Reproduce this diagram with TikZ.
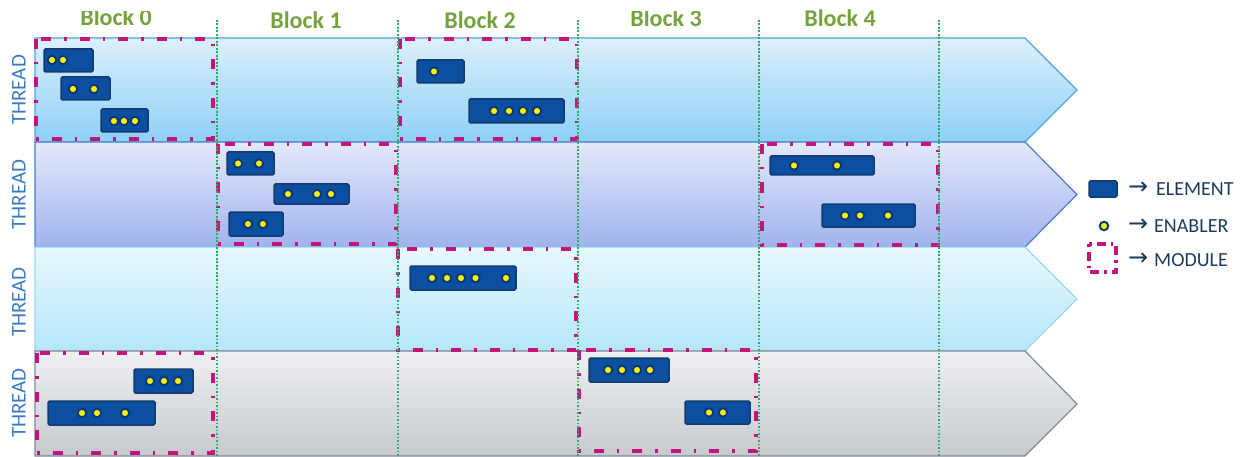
\documentclass[tikz,border=0pt]{standalone}
\usepackage{fontspec}
\setmainfont{Carlito}
\newfontfamily\arrowfont{DejaVu Sans}
\definecolor{blockgreen}{HTML}{76A23E}
\definecolor{threadblue}{HTML}{3A7BC2}
\definecolor{elfill}{HTML}{0C4FA0}
\definecolor{eldraw}{HTML}{143A6C}
\definecolor{halo}{HTML}{08397A}
\definecolor{dotyellow}{HTML}{FFF200}
\definecolor{modcol}{HTML}{C4147C}
\definecolor{gridgreen}{HTML}{23B062}
\definecolor{legtext}{HTML}{1E3A5C}
\definecolor{rAtop}{HTML}{DDF0FC}\definecolor{rAbot}{HTML}{8ED0F8}\definecolor{rAdraw}{HTML}{4FA3DC}
\definecolor{rBtop}{HTML}{E4E9FA}\definecolor{rBbot}{HTML}{A0B3EE}\definecolor{rBdraw}{HTML}{4A7CC6}
\definecolor{rCtop}{HTML}{E8F8FE}\definecolor{rCbot}{HTML}{B6E7FA}\definecolor{rCdraw}{HTML}{9ED6F2}
\definecolor{rDtop}{HTML}{EFF0F2}\definecolor{rDbot}{HTML}{C6CACF}\definecolor{rDdraw}{HTML}{7F8A93}
\tikzset{
  element/.style={rectangle, rounded corners=1.5pt, fill=elfill, draw=eldraw, line width=1.5pt, inner sep=0pt},
  enabler/.style={circle, fill=dotyellow, draw=halo, line width=2pt, inner sep=0pt, minimum size=8.5pt},
  module/.style={draw=modcol, line width=3.4pt, dash pattern=on 10pt off 13pt on 2.5pt off 13pt},
  gridline/.style={draw=gridgreen, line width=1.9pt, dash pattern=on 1.9pt off 1.6pt},
  blocklabel/.style={text=blockgreen, font=\bfseries\fontsize{24}{28}\selectfont, anchor=base, inner sep=0pt},
  threadlabel/.style={text=threadblue, font=\fontsize{21}{24}\selectfont, rotate=90, inner sep=0pt},
  legendtext/.style={text=legtext, font=\fontsize{20}{24}\selectfont, anchor=west, inner sep=0pt},
  legendarrow/.style={text=legtext, font=\arrowfont\fontsize{24}{26}\selectfont, anchor=west, inner sep=0pt},
  band/.style={line width=1.2pt}
}
\begin{document}
\begin{tikzpicture}[x=1pt,y=-1pt]
\useasboundingbox (0,0) rectangle (1241,457);
% bands
\path[band, top color=rAtop, bottom color=rAbot, draw=rAdraw] (35,38) -- (1025,38) -- (1077,90) -- (1025,142) -- (35,142) -- cycle;
\path[band, top color=rBtop, bottom color=rBbot, draw=rBdraw] (35,142) -- (1025,142) -- (1077,194.5) -- (1025,247) -- (35,247) -- cycle;
\path[band, top color=rCtop, bottom color=rCbot, draw=rCdraw] (35,247) -- (1025,247) -- (1077,299) -- (1025,351) -- (35,351) -- cycle;
\path[band, top color=rDtop, bottom color=rDbot, draw=rDdraw] (35,351) -- (1025,351) -- (1077,404) -- (1025,456) -- (35,456) -- cycle;
% thread labels
\node[threadlabel] (t1) at (19,90) {THREAD};
\node[threadlabel] (t2) at (19,194.5) {THREAD};
\node[threadlabel] (t3) at (19,302) {THREAD};
\node[threadlabel] (t4) at (19,403) {THREAD};
% block labels
\begin{scope}
\clip (0,12) rectangle (1241,40);
\node[blocklabel] (b0) at (116,26) {Block 0};
\node[blocklabel] (b3) at (666,27) {Block 3};
\end{scope}
\node[blocklabel] (b1) at (306,29) {Block 1};
\node[blocklabel] (b2) at (480,29) {Block 2};
\node[blocklabel] (b4) at (840,27) {Block 4};
% modules
\draw[module] (36,39) rectangle (213,139);
\draw[module] (400,39) rectangle (577,139);
\draw[module] (218,144) rectangle (396,244);
\draw[module] (762,144) rectangle (938,245);
\draw[module] (398,249) rectangle (576,350);
\draw[module] (37,353) rectangle (213,453);
\draw[module] (579,350) rectangle (756,451);
% grid lines
\foreach \gx [count=\i] in {217,398,578,759,939} {
  \coordinate (gt\i) at (\gx,20);
  \coordinate (gb\i) at (\gx,457);
  \draw[gridline] (gt\i) -- (gb\i);
}
% elements: name/x1/x2/y1/y2
\foreach \n/\xa/\xb/\ya/\yb in {a1/44/93/49/72, a2/61/110/77/100, a3/101/148/109/132, a4/417/464/60/83, a5/469/564/99/123,
  b1/227/274/152/175, b2/274/349/184/204, b3/229/283/212/236, b4/770/874/156/175, b5/822/915/204/227,
  c1/410/516/266/290, d1/134/193/369/393, d2/48/155/401/425, d3/589/669/358/382, d4/685/750/401/424} {
  \node[element, minimum width=\xb-\xa, minimum height=\yb-\ya] (el-\n) at ({(\xa+\xb)/2},{(\ya+\yb)/2}) {};
}
% enablers
\foreach \ex/\ey [count=\i] in {52/60, 63/60, 73/89, 94/89, 114/121, 124/121, 135/121, 434/71.5,
  494/111, 509/111, 523/111, 537/111,
  238/163.5, 259/163.5, 288/194, 317/194, 331/194, 248/224, 263/224, 794/165.5, 837/165.5, 845/215.5, 860/215.5, 888/215.5,
  432/278, 447/278, 461/278, 475.5/278, 506/278,
  150/381, 164/381, 178/381, 82/413, 97/413, 125/413, 608/370, 622/370, 637/370, 650/370, 709/412.5, 723/412.5} {
  \node[enabler] (en\i) at (\ex,\ey) {};
}
% legend
\node[element, minimum width=28, minimum height=16] (lg-el) at (1103,189) {};
\node[enabler] (lg-en) at (1104,226) {};
\draw[module, dash pattern=on 2.5pt off 5pt on 9pt off 5pt] (1089,244) rectangle (1116,272);
\coordinate (lg-mod) at (1102.5,258);
\node[legendarrow] (la1) at (1128,188) {→};
\node[legendarrow] (la2) at (1128,225) {→};
\node[legendarrow] (la3) at (1128,259) {→};
\node[legendtext] (lt1) at (1156,189) {ELEMENT};
\node[legendtext] (lt2) at (1154,226) {ENABLER};
\node[legendtext] (lt3) at (1154,260) {MODULE};
\end{tikzpicture}
\end{document}
